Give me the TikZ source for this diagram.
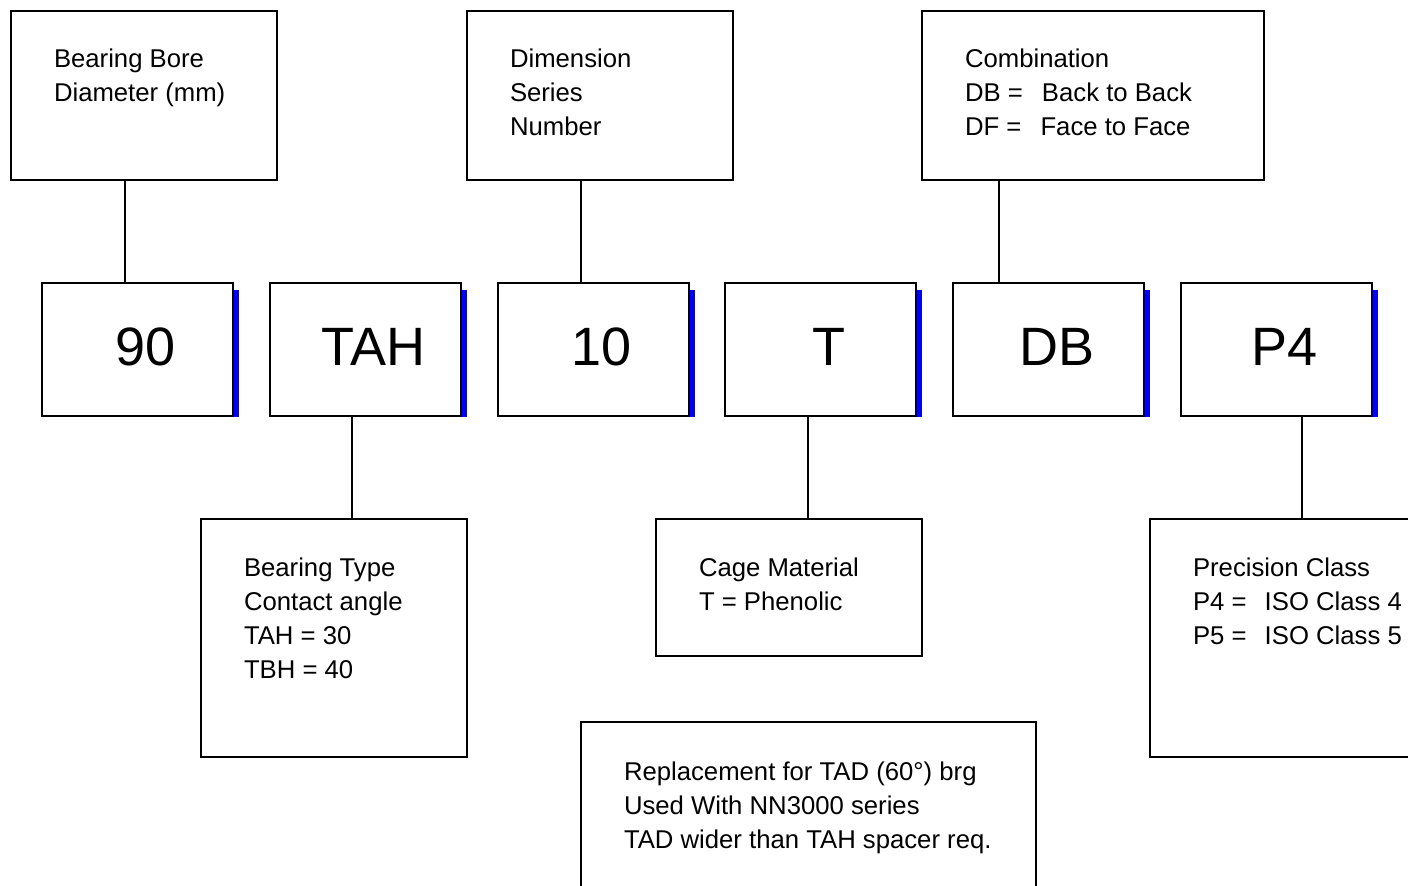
\documentclass[tikz,border=0pt]{standalone}
\usepackage{fontspec}
\setmainfont{Liberation Sans}
\usetikzlibrary{positioning}

\begin{document}
\begin{tikzpicture}[x=1pt, y=-1pt, line width=2pt,
  every node/.style={font=\fontsize{25.7pt}{34pt}\selectfont},
  infobox/.style={draw, anchor=north west, inner sep=0pt},
  codebox/.style={draw, anchor=north west, inner sep=0pt, minimum width=191pt, minimum height=133pt, font=\fontsize{54pt}{60pt}\selectfont, text height=31pt, text depth=0pt, execute at begin node=\hspace*{16pt}},
  info/.style={anchor=base west, align=left, inner sep=0pt},
  link/.style={line width=2pt}]
\useasboundingbox (0,0) rectangle (1408,886);
\clip (0,0) rectangle (1408,886);
% top row
\node[infobox, minimum width=266pt, minimum height=169pt] (bore) at (10,10) {};
\node[infobox, minimum width=266pt, minimum height=169pt] (dim) at (466,10) {};
\node[infobox, minimum width=342pt, minimum height=169pt] (comb) at (921,10) {};
% text nodes sit on the baseline of their last line
\node[info] (boretxt) at ([xshift=43pt,yshift=-91pt]bore.north west) {Bearing Bore\\Diameter (mm)};
\node[info] (dimtxt) at ([xshift=43pt,yshift=-125pt]dim.north west) {Dimension\\Series\\Number};
\node[info] (combtxt) at ([xshift=43pt,yshift=-125pt]comb.north west) {Combination\\DB = \hspace{12pt}Back to Back\\DF = \hspace{12pt}Face to Face};
% code row
\foreach \name/\code [count=\i from 0] in {n90/90, nTAH/TAH, n10/10, nT/T, nDB/DB, nP4/P4} {
  \node[codebox] (\name) at (41+227.8*\i,282) {\code};
  \fill[blue] ([yshift=-8pt]\name.north east) rectangle ([xshift=5pt]\name.south east);
}
% bottom row
\node[infobox, minimum width=266pt, minimum height=238pt] (type) at (200,518) {};
\node[infobox, minimum width=266pt, minimum height=137pt] (cage) at (655,518) {};
\node[infobox, minimum width=275pt, minimum height=238pt] (prec) at (1149,518) {};
\node[infobox, minimum width=455pt, minimum height=190pt] (note) at (580,721) {};
\node[info] (typetxt) at ([xshift=43pt,yshift=-160pt]type.north west) {Bearing Type\\Contact angle\\TAH = 30\\TBH = 40};
\node[info] (cagetxt) at ([xshift=43pt,yshift=-92pt]cage.north west) {Cage Material\\T = Phenolic};
\node[info] (prectxt) at ([xshift=43pt,yshift=-126pt]prec.north west) {Precision Class\\P4 = \hspace{11pt}ISO Class 4\\P5 = \hspace{11pt}ISO Class 5};
\node[info] (notetxt) at ([xshift=43pt,yshift=-127pt]note.north west) {Replacement for TAD (60°) brg\\Used With NN3000 series\\TAD wider than TAH spacer req.};
% connectors
\draw[link] ([xshift=-12.5pt]n90.north) -- ([xshift=-12.5pt]n90.north |- bore.south);
\draw[link] ([xshift=-12pt]n10.north) -- ([xshift=-12pt]n10.north |- dim.south);
\draw[link] ([xshift=-50pt]nDB.north) -- ([xshift=-50pt]nDB.north |- comb.south);
\draw[link] ([xshift=-13pt]nTAH.south) -- ([xshift=-13pt]nTAH.south |- type.north);
\draw[link] ([xshift=-12.5pt]nT.south) -- ([xshift=-12.5pt]nT.south |- cage.north);
\draw[link] ([xshift=25pt]nP4.south) -- ([xshift=25pt]nP4.south |- prec.north);
\end{tikzpicture}
\end{document}
